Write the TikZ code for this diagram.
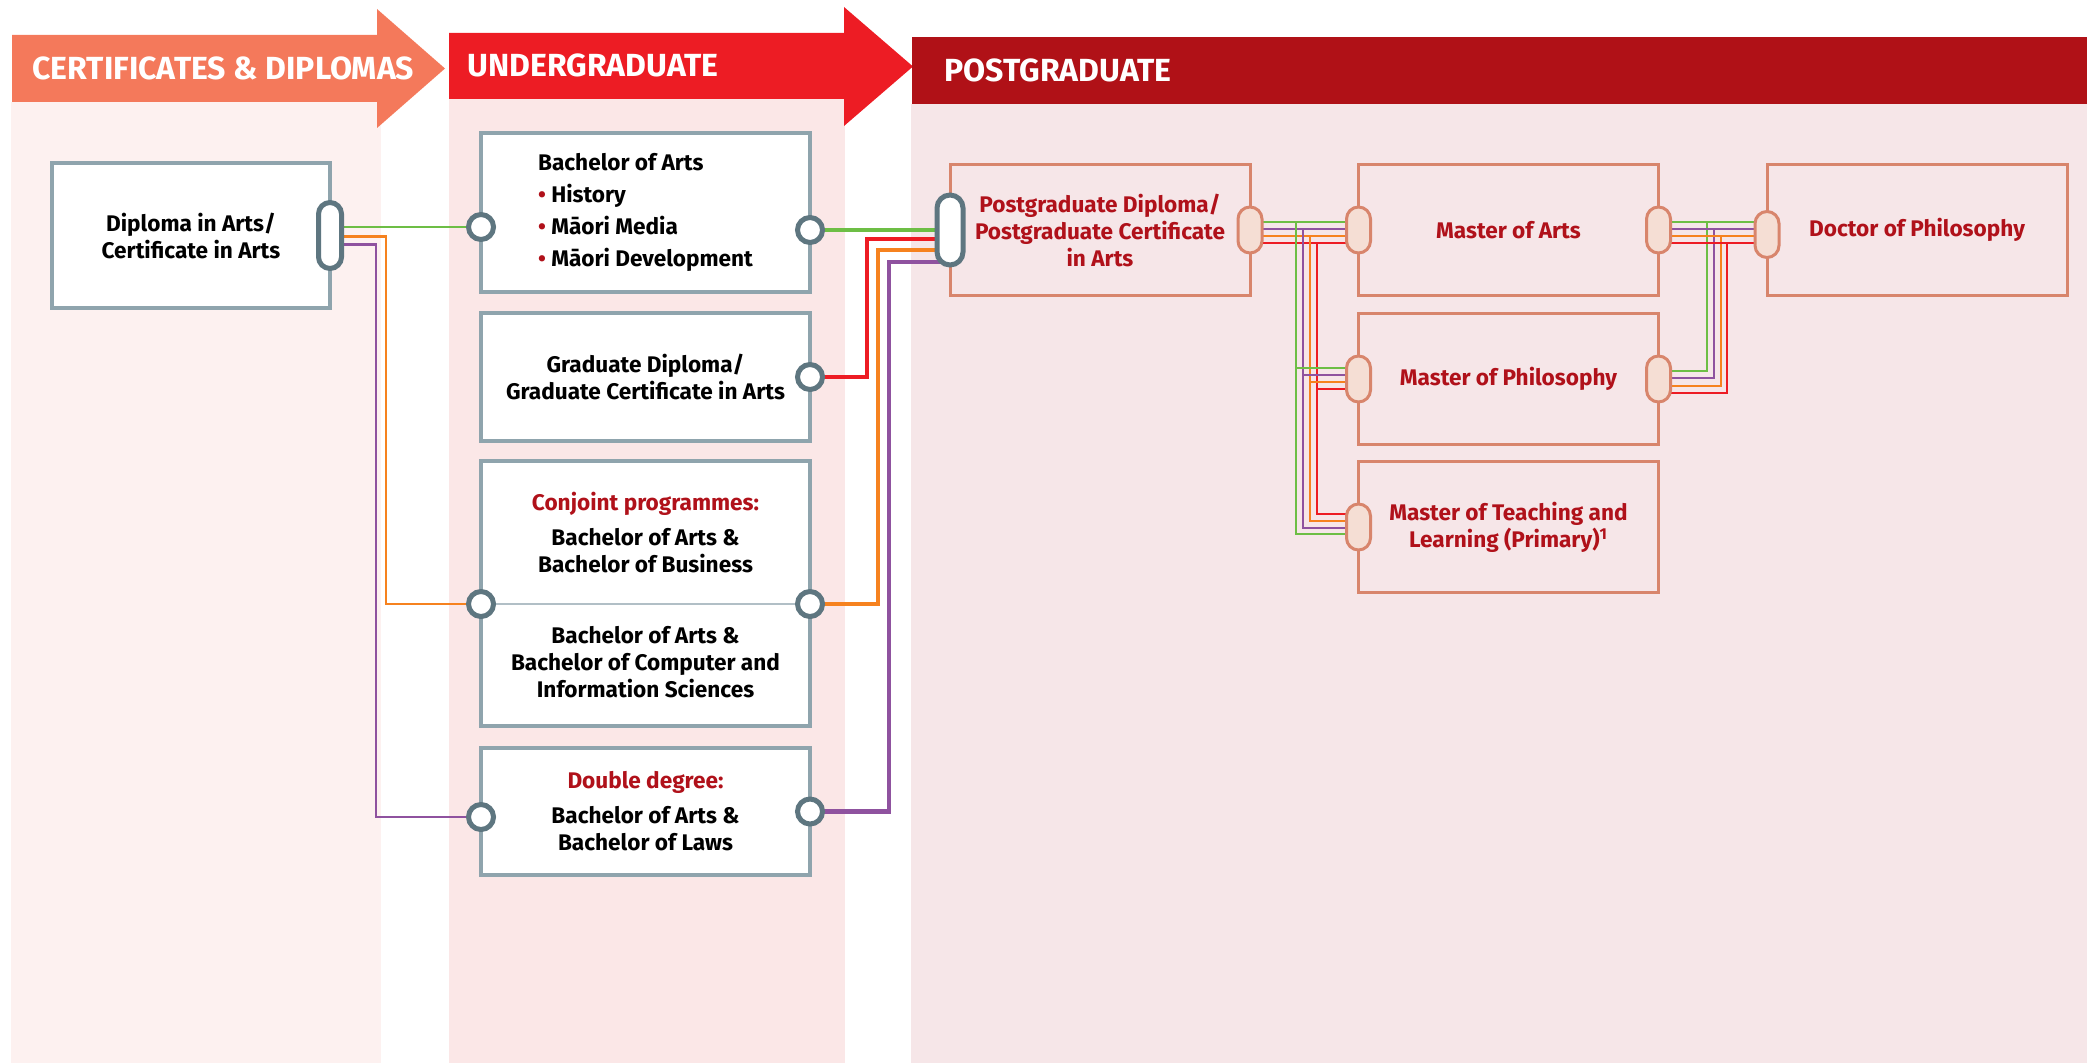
\documentclass[tikz,border=0pt]{standalone}
\usepackage{fontspec}
\setmainfont{Fira Sans}
\usetikzlibrary{positioning,calc,backgrounds}

\definecolor{certfill}{HTML}{F4795B}
\definecolor{ugfill}{HTML}{ED1C24}
\definecolor{pgfill}{HTML}{B01117}
\definecolor{certbg}{HTML}{FDF1F0}
\definecolor{ugbg}{HTML}{FBE7E7}
\definecolor{pgbg}{HTML}{F6E6E8}
\definecolor{boxgray}{HTML}{8FA4AD}
\definecolor{portgray}{HTML}{5E7680}
\definecolor{pgline}{HTML}{D8856C}
\definecolor{tabfill}{HTML}{F5DED4}
\definecolor{pgtext}{HTML}{B0111A}
\definecolor{wgreen}{HTML}{6DBE45}
\definecolor{worange}{HTML}{F6821F}
\definecolor{wpurple}{HTML}{8F529F}
\definecolor{wred}{HTML}{ED1C24}

\newcommand\boxfont{\fontsize{11.3pt}{13.5pt}\selectfont\bfseries}
\newcommand\headfont{\fontsize{16pt}{19pt}\selectfont\bfseries}
\newcommand\bul{{\color{pgtext}\textbullet}\ }

\pgfdeclarelayer{wires}
\pgfsetlayers{background,wires,main}

\begin{document}
\begin{tikzpicture}[
  x=0.5pt, y=-0.5pt,
  % White boxes with grey frame (certificates / undergraduate)
  gbox/.style={rectangle, draw=boxgray, line width=1.75pt, fill=white,
    minimum width=164.5pt, outer sep=0pt, inner sep=2pt, align=center,
    font=\boxfont},
  % Frame only, dark red text (postgraduate)
  pbox/.style={rectangle, draw=pgline, line width=1.5pt,
    minimum width=150pt, minimum height=65.5pt, outer sep=0pt,
    align=center, text=pgtext, font=\boxfont},
  % Round ports and slots on the grey boxes
  hole/.style={circle, draw=portgray, line width=2.5pt, fill=white,
    minimum size=12.5pt, inner sep=0pt},
  slot/.style={rectangle, rounded corners=5.75pt, draw=portgray,
    line width=2.5pt, fill=white, minimum width=11.5pt,
    minimum height=33pt, inner sep=0pt},
  % Pale pills on the postgraduate boxes
  tab/.style={rectangle, rounded corners=6pt, draw=pgline,
    line width=1.5pt, fill=tabfill, minimum width=12pt,
    minimum height=23pt, inner sep=0pt},
  headtext/.style={text=white, font=\headfont, inner sep=0pt,
    anchor=base west},
  wthin/.style={line width=1.2pt},
  wthick/.style={line width=2.3pt},
  wfine/.style={line width=1pt},
]
  \useasboundingbox (0,0) rectangle (2091,1064);

  % === Columns and header arrows ===
  \begin{pgfonlayer}{background}
    \fill[certbg] (11,102) rectangle (381,1063);
    \fill[ugbg] (449,99) rectangle (845,1063);
    \fill[pgbg] (911,104) rectangle (2087,1063);
    \fill[certfill] (12,35) -- (377,35) -- (377,9) -- (445,68.5)
      -- (377,128) -- (377,102) -- (12,102) -- cycle;
    \fill[ugfill] (449,33) -- (844,33) -- (844,7) -- (913,66.5)
      -- (844,126) -- (844,99) -- (449,99) -- cycle;
    \fill[pgfill] (912,37) rectangle (2087,104);
  \end{pgfonlayer}
  \node[headtext] (hcert) at (32,80) {CERTIFICATES \& DIPLOMAS};
  \node[headtext] (hug) at (467,77) {UNDERGRADUATE};
  \node[headtext] (hpg) at (944,82) {POSTGRADUATE};

  % === Certificates & diplomas ===
  \node[gbox, minimum width=139pt, minimum height=72.5pt] (dipl) at (191,235.5)
    {Diploma in Arts/\\Certificate in Arts};

  % === Undergraduate ===
  \node[gbox, minimum height=79.5pt, align=left] (ba) at (645.5,212.5)
    {Bachelor of Arts\\[2.5pt] \bul History\\[2.5pt] \bul Māori Media\\[2.5pt]
     \bul Māori Development};
  \node[gbox, minimum height=64pt, below=10.5pt of ba] (gd)
    {Graduate Diploma/\\Graduate Certificate in Arts};
  \node[gbox, minimum height=132.5pt, below=10pt of gd] (cj) {};
  \node[gbox, minimum height=63.5pt, below=11pt of cj] (dd)
    {{\color{pgtext}Double degree:}\\[4pt]Bachelor of Arts \&\\Bachelor of Laws};
  \node[font=\boxfont, align=center] (cjtop) at (645.5,533)
    {{\color{pgtext}Conjoint programmes:}\\[4pt]Bachelor of Arts \&\\Bachelor of Business};
  \node[font=\boxfont, align=center] (cjbot) at (645.5,662)
    {Bachelor of Arts \&\\Bachelor of Computer and\\Information Sciences};

  % === Postgraduate ===
  \node[pbox] (pg) at (1100,230)
    {Postgraduate Diploma/\\Postgraduate Certificate\\in Arts};
  \node[pbox, right=54.25pt of pg] (ma) {Master of Arts};
  \node[pbox, below=9pt of ma] (mp) {Master of Philosophy};
  \node[pbox, below=8.5pt of mp] (mt)
    {Master of Teaching and\\Learning (Primary)\textsuperscript{1}};
  \node[pbox, right=54.25pt of ma] (phd) {Doctor of Philosophy};

  % === Ports ===
  \node[slot] (dp) at (dipl.east) {};
  \node[hole] (baL) at ($(ba.west)+(0,14.5)$) {};
  \node[hole] (baR) at ($(ba.east)+(0,17.5)$) {};
  \node[hole] (gdR) at (gd.east) {};
  \node[hole] (cjL) at ($(cj.west)+(0,10.5)$) {};
  \node[hole] (cjR) at ($(cj.east)+(0,10.5)$) {};
  \node[hole] (ddL) at ($(dd.west)+(0,5.5)$) {};
  \node[hole] (ddR) at (dd.east) {};
  \node[slot, minimum width=13pt, minimum height=35pt, rounded corners=6.5pt]
    (pgL) at (pg.west) {};
  \node[tab] (pgR) at (pg.east) {};
  \node[tab] (maL) at (ma.west) {};
  \node[tab] (maR) at (ma.east) {};
  \node[tab] (mpL) at (mp.west) {};
  \node[tab] (mpR) at (mp.east) {};
  \node[tab] (mtL) at (mt.west) {};
  \node[tab] (phL) at ($(phd.west)+(0,4.5)$) {};

  \draw[boxgray!70, line width=0.8pt] (cjL) -- (cjR);

  % lanes leaving the postgraduate pills
  \coordinate (lg) at (0,222);
  \coordinate (lp) at (0,229);
  \coordinate (lo) at (0,236);
  \coordinate (lr) at (0,243);

  \begin{pgfonlayer}{wires}
    % === Edges: diploma -> bachelor programmes ===
    \draw[wthin, wgreen] (dp |- baL) -- (baL.center);
    \draw[wthin, worange] ($(dp)+(0,1)$) -| (386,604) -- (cjL.center);
    \draw[wthin, wpurple] ($(dp)+(0,9)$) -| (376,817) -- (ddL.center);

    % === Edges: undergraduate -> postgraduate diploma ===
    \draw[wthick, wgreen] (baR.center) -- (pgL |- baR);
    \draw[wthick, wred] (gdR.center) -| (867,239) -- ($(pgL)+(0,9)$);
    \draw[wthick, worange] (cjR.center) -| (878,250) -- ($(pgL)+(0,20)$);
    \draw[wthick, wpurple] (ddR.center) -| (889,262) -- ($(pgL)+(0,32)$);

    % === Edges: postgraduate diploma -> masters ===
    \draw[wfine, wred] (pgR |- lr) -- (maL |- lr)
      (1317,243) |- ($(mtL)+(0,-13)$)  (1317,389) -- ($(mpL)+(0,10)$);
    \draw[wfine, worange] (pgR |- lo) -- (maL |- lo)
      (1310,236) |- ($(mtL)+(0,-6)$)  (1310,382) -- ($(mpL)+(0,3)$);
    \draw[wfine, wpurple] (pgR |- lp) -- (maL |- lp)
      (1303,229) |- ($(mtL)+(0,1)$)  (1303,375) -- ($(mpL)+(0,-4)$);
    \draw[wfine, wgreen] (pgR |- lg) -- (maL |- lg)
      (1296,222) |- ($(mtL)+(0,7)$)  (1296,368) -- ($(mpL)+(0,-11)$);

    % === Edges: masters -> doctorate ===
    \draw[wfine, wgreen] (maR |- lg) -- (phL |- lg)
      (1707,222) |- ($(mpR)+(0,-8)$);
    \draw[wfine, wpurple] (maR |- lp) -- (phL |- lp)
      (1714,229) |- ($(mpR)+(0,-1)$);
    \draw[wfine, worange] (maR |- lo) -- (phL |- lo)
      (1721,236) |- ($(mpR)+(0,7)$);
    \draw[wfine, wred] (maR |- lr) -- (phL |- lr)
      (1727,243) |- ($(mpR)+(0,14)$);
  \end{pgfonlayer}
\end{tikzpicture}
\end{document}
